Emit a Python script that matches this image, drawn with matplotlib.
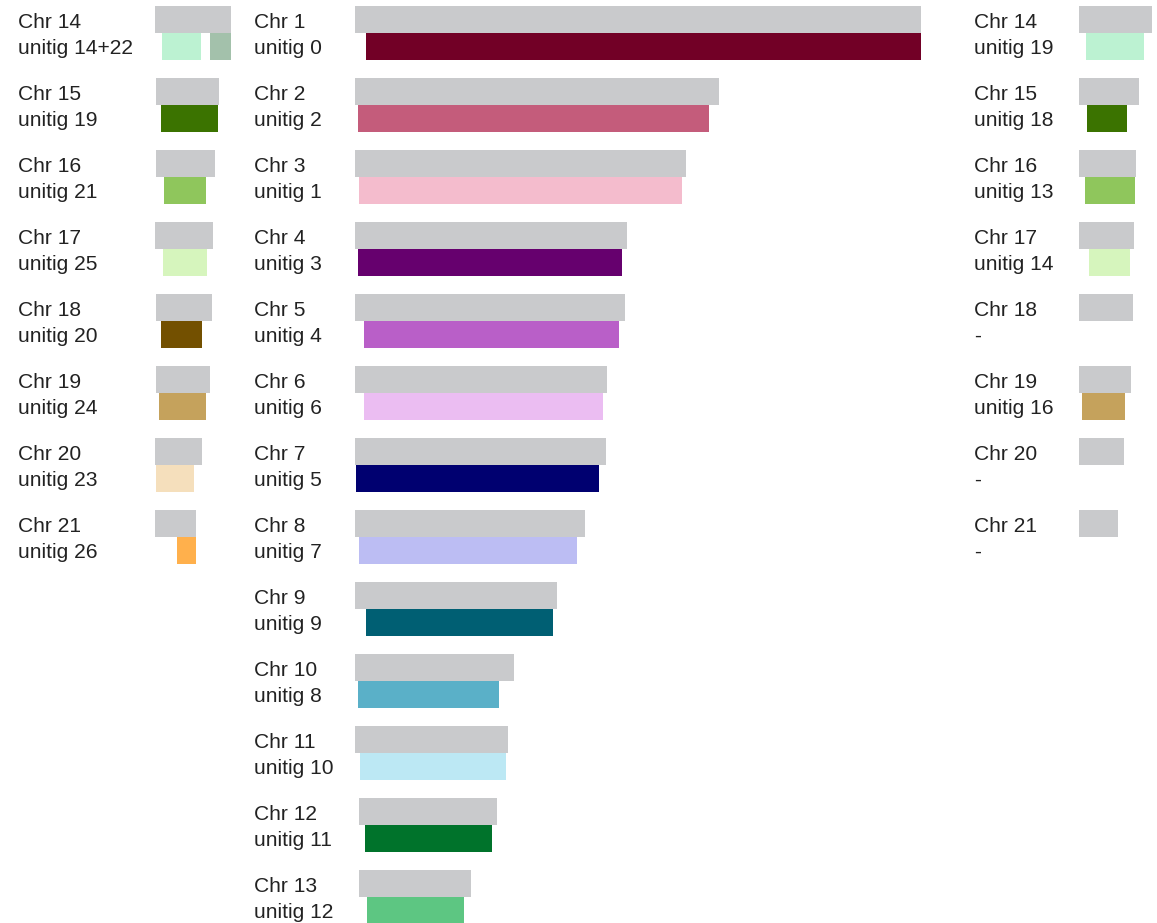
import matplotlib
matplotlib.use('Agg')
import matplotlib.pyplot as plt

plt.rcParams['font.family'] = ['Liberation Sans', 'DejaVu Sans']

GREY = '#c9cacc'

# middle panel: Chr 1-13 (lengths in arbitrary units)
mid_chr = ['Chr 1', 'Chr 2', 'Chr 3', 'Chr 4', 'Chr 5', 'Chr 6', 'Chr 7',
           'Chr 8', 'Chr 9', 'Chr 10', 'Chr 11', 'Chr 12', 'Chr 13']
mid_chr_start = [0, 0, 0, 0, 0, 0, 0, 0, 0, 0, 0, 4, 4]
mid_chr_end = [566, 364, 331, 272, 270, 252, 251, 230, 202, 159, 153, 142, 116]
mid_unitig = ['unitig 0', 'unitig 2', 'unitig 1', 'unitig 3', 'unitig 4', 'unitig 6',
              'unitig 5', 'unitig 7', 'unitig 9', 'unitig 8', 'unitig 10', 'unitig 11',
              'unitig 12']
mid_seg = [[(11, 566)], [(3, 354)], [(4, 327)], [(3, 267)], [(9, 264)], [(9, 248)],
           [(1, 244)], [(4, 222)], [(11, 198)], [(3, 144)], [(5, 151)], [(10, 137)],
           [(12, 109)]]
mid_col = [['#720026'], ['#c45c7b'], ['#f4bccd'], ['#66006e'], ['#b95fc8'], ['#ebbdf2'],
           ['#000070'], ['#bcbdf3'], ['#005f73'], ['#5ab0c8'], ['#bce8f4'], ['#00732b'],
           ['#5dc682']]

# left panel: Chr 14-21
left_chr = ['Chr 14', 'Chr 15', 'Chr 16', 'Chr 17', 'Chr 18', 'Chr 19', 'Chr 20', 'Chr 21']
left_chr_start = [0, 1, 1, 0, 1, 1, 0, 0]
left_chr_end = [76, 64, 60, 58, 57, 55, 47, 41]
left_unitig = ['unitig 14+22', 'unitig 19', 'unitig 21', 'unitig 25', 'unitig 20',
               'unitig 24', 'unitig 23', 'unitig 26']
left_seg = [[(7, 46), (55, 76)], [(6, 63)], [(9, 51)], [(8, 52)], [(6, 47)], [(4, 51)],
            [(1, 39)], [(22, 41)]]
left_col = [['#bcf2d2', '#a3c1ab'], ['#3b7300'], ['#8fc65c'], ['#d6f5bd'], ['#735000'],
            ['#c5a25c'], ['#f5dfbc'], ['#ffb04c']]

# right panel: Chr 14-21, second assembly
right_chr = ['Chr 14', 'Chr 15', 'Chr 16', 'Chr 17', 'Chr 18', 'Chr 19', 'Chr 20', 'Chr 21']
right_chr_start = [0, 0, 0, 0, 0, 0, 0, 0]
right_chr_end = [73, 60, 57, 55, 54, 52, 45, 39]
right_unitig = ['unitig 19', 'unitig 18', 'unitig 13', 'unitig 14', '-', 'unitig 16', '-', '-']
right_seg = [[(7, 65)], [(8, 48)], [(6, 56)], [(10, 51)], [], [(3, 46)], [], []]
right_col = [['#bcf2d2'], ['#3b7300'], ['#8fc65c'], ['#d6f5bd'], [], ['#c5a25c'], [], []]

W, H = 1157, 923
fig = plt.figure(figsize=(W / 100, H / 100), dpi=100)

ROW_PX = 72
TOP_PX = 6
NROWS = 13


def panel(left_px, width_px, label_px, chrs, cstart, cend, unitigs, segs, cols):
    ax = fig.add_axes([left_px / W, 1 - (TOP_PX + ROW_PX * NROWS) / H,
                       width_px / W, ROW_PX * NROWS / H])
    ax.set_xlim(0, width_px)
    ax.set_ylim(NROWS, 0)
    ax.axis('off')
    for i in range(len(chrs)):
        ax.barh(i + 0.1875, cend[i] - cstart[i], left=cstart[i], height=0.375,
                color=GREY, linewidth=0)
        for (s, e), c in zip(segs[i], cols[i]):
            ax.barh(i + 0.5625, e - s, left=s, height=0.375, color=c, linewidth=0)
        ax.text(label_px - left_px, i + 0.225, chrs[i], fontsize=15.1, color='#222222',
                va='center', ha='left', clip_on=False)
        ax.text(label_px - left_px, i + 0.59, unitigs[i], fontsize=15.1, color='#222222',
                va='center', ha='left', clip_on=False)
    return ax


panel(155, 80, 18, left_chr, left_chr_start, left_chr_end, left_unitig, left_seg, left_col)
panel(355, 600, 254, mid_chr, mid_chr_start, mid_chr_end, mid_unitig, mid_seg, mid_col)
panel(1079, 78, 974, right_chr, right_chr_start, right_chr_end, right_unitig, right_seg, right_col)

fig.savefig('out.png', dpi=100)
